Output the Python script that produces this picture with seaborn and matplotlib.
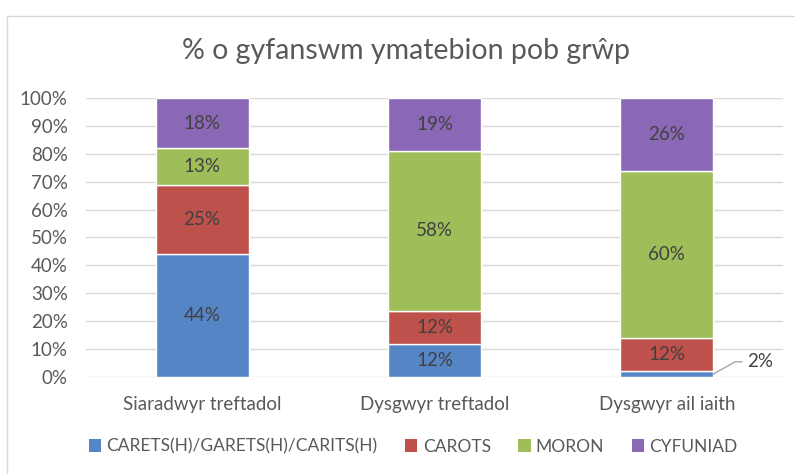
import pandas as pd
import matplotlib.pyplot as plt
import seaborn as sns
from matplotlib.lines import Line2D
from matplotlib.patches import Patch

# data (labels as shown, stacks normalised to 100%)
groups = ['Siaradwyr treftadol', 'Dysgwyr treftadol', 'Dysgwyr ail iaith']
series = ['CARETS(H)/GARETS(H)/CARITS(H)', 'CAROTS', 'MORON', 'CYFUNIAD']
carets = [44, 12, 2]
carots = [25, 12, 12]
moron = [13, 58, 60]
cyfuniad = [18, 19, 26]
colors = ['#5585C5', '#BE514C', '#9FBE5A', '#8B68B6']

df = pd.DataFrame({'group': groups, series[0]: carets, series[1]: carots,
                   series[2]: moron, series[3]: cyfuniad})
totals = df[series].sum(axis=1)

sns.set_style('white')
plt.rcParams['font.family'] = ['Lato', 'DejaVu Sans']
txt = '#595959'

fig = plt.figure(figsize=(7.95, 4.74), dpi=100)
ax = fig.add_axes([0.108, 0.205, 0.877, 0.588])

bottom = pd.Series([0.0] * len(groups))
for name, col in zip(series, colors):
    share = df[name] / totals
    sns.barplot(x=df['group'], y=share, bottom=bottom, color=col, width=0.4,
                saturation=1, ax=ax, zorder=3)
    for i, (v, b, s) in enumerate(zip(df[name], bottom, share)):
        if v >= 5:
            ax.text(i, b + s / 2, f'{v}%', ha='center', va='center',
                    fontsize=13.5, color='#404040', zorder=4)
        else:
            # small slice: label outside with a leader line
            ax.plot([i + 0.2, i + 0.294, i + 0.324], [b + s / 2, 0.054, 0.054],
                    color='#A6A6A6', lw=1, zorder=4)
            ax.text(i + 0.345, 0.054, f'{v}%', ha='left', va='center',
                    fontsize=13.5, color='#404040')
    bottom = bottom + share

ax.set_xlim(-0.5, 2.5)
ax.set_ylim(0, 1)
ax.set_yticks([i / 10 for i in range(11)])
ax.set_yticklabels([f'{i * 10}%' for i in range(11)])
ax.yaxis.grid(True, color='#D9D9D9', lw=1, zorder=0)
ax.set_axisbelow(True)
for s in ax.spines.values():
    s.set_visible(False)
ax.tick_params(axis='both', length=0, labelsize=13.5, colors=txt)
ax.tick_params(axis='x', pad=14)
ax.tick_params(axis='y', pad=13)
ax.set_xlabel('')
ax.set_ylabel('')

fig.text(0.511, 0.893, '% o gyfanswm ymatebion pob grŵp', ha='center', va='center',
         fontsize=20.5, color=txt)

handles = [Patch(facecolor=c, edgecolor='none') for c in colors]
fig.legend(handles, series, loc='center', bbox_to_anchor=(0.52, 0.058), ncol=4,
           frameon=False, fontsize=12.5, labelcolor=txt, handlelength=0.7,
           handleheight=0.7, handletextpad=0.3, columnspacing=1.6)

# outer chart border (only top and left visible in the crop)
fig.add_artist(Line2D([0.009, 1.0], [0.966, 0.966], color='#D9D9D9', lw=1))
fig.add_artist(Line2D([0.009, 0.009], [0.0, 0.966], color='#D9D9D9', lw=1))

fig.savefig('out.png', dpi=100)
